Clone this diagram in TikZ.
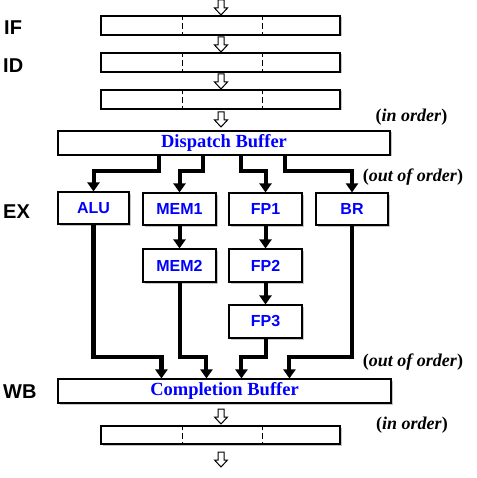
\documentclass[tikz,border=0pt]{standalone}
\usepackage{fontspec}
\setmainfont{Liberation Serif}
\setsansfont{Liberation Sans}
\usetikzlibrary{arrows.meta,shadows,calc}
\begin{document}
\begin{tikzpicture}[x=1pt,y=-1pt,
  shad/.style={drop shadow={shadow xshift=1.5pt,shadow yshift=-1.5pt,fill=black!45,opacity=0.5}},
  bar/.style={draw,line width=1.1pt,fill=white,shad,minimum width=239pt,minimum height=19pt,inner sep=0pt},
  buf/.style={draw,line width=1.1pt,fill=white,shad,minimum height=24pt,inner sep=0pt,
    font=\fontsize{18.5}{20}\selectfont\bfseries,text=blue},
  unit/.style={draw,line width=1.1pt,fill=white,shad,minimum width=73pt,minimum height=32pt,inner sep=0pt,
    font=\fontsize{16}{18}\sffamily\bfseries,text=blue},
  stage/.style={anchor=west,inner sep=0pt,font=\fontsize{20}{22}\sffamily\bfseries},
  note/.style={inner sep=0pt,font=\fontsize{18}{20}\selectfont\bfseries},
  conn/.style={line width=4pt,-{Triangle[width=12pt,length=9pt]}},
  divline/.style={dash pattern=on 6pt off 3pt,dash phase=1pt,line width=0.9pt},
  harrow/.pic={\draw[line width=1pt,fill=white] (-3,0) -- (3,0) -- (3,8) -- (6.5,8) -- (0,15) -- (-6.5,8) -- (-3,8) -- cycle;}
]
\useasboundingbox (0,0) rectangle (476,478);

% pipeline bars
\node[bar] (b1) at (220.5,25.5) {};
\node[bar] (b2) at (220.5,62.5) {};
\node[bar] (b3) at (220.5,99.5) {};
\node[bar,minimum height=18pt] (b4) at (220.5,435) {};
\foreach \b in {b1,b2,b3,b4}{
  \draw[divline] ([xshift=82pt]\b.north west) -- ([xshift=82pt]\b.south west);
  \draw[divline] ([xshift=162pt]\b.north west) -- ([xshift=162pt]\b.south west);
}

% hollow arrows
\pic at (221,0) {harrow};
\pic at (221,37) {harrow};
\pic at (221,74) {harrow};
\pic at (221,112) {harrow};
\pic at (221,409) {harrow};
\pic at (221,452) {harrow};

% buffers
\node[buf,minimum width=332pt] (disp) at (224,143) {Dispatch Buffer};
\node[buf,minimum width=333pt] (comp) at (224.5,391) {Completion Buffer};

% units
\node[unit,minimum width=71pt] (alu) at (93.5,208) {ALU};
\node[unit] (mem1) at (179.5,209) {MEM1};
\node[unit] (fp1) at (265.5,209) {FP1};
\node[unit,minimum width=72pt] (br) at (352,209) {BR};
\node[unit,minimum height=33pt] (mem2) at (179.5,265.5) {MEM2};
\node[unit,minimum height=33pt] (fp2) at (265.5,265.5) {FP2};
\node[unit,minimum height=33pt] (fp3) at (265.5,321.5) {FP3};

% stage labels
\node[stage] (lif) at (4,28) {IF};
\node[stage] (lid) at (3,66) {ID};
\node[stage] (lex) at (3,212) {EX};
\node[stage] (lwb) at (3,392) {WB};

% notes
\node[note] (n1) at (411.5,117) {(\textit{in order})};
\node[note] (n2) at (413,177) {(\textit{out of order})};
\node[note] (n3) at (413,362) {(\textit{out of order})};
\node[note] (n4) at (412,425) {(\textit{in order})};

% dispatch connectors
\coordinate (d1) at ([xshift=102pt]disp.south west);
\coordinate (d2) at ([xshift=146pt]disp.south west);
\coordinate (d3) at ([xshift=184pt]disp.south west);
\coordinate (d4) at ([xshift=228pt]disp.south west);
\draw[conn] (d1) -- ++(0,15) -| (alu.north);
\draw[conn] (d2) -- ++(0,15) -| (mem1.north);
\draw[conn] (d3) -- ++(0,15) -| (fp1.north);
\draw[conn] (d4) -- ++(0,15) -| (br.north);

% internal pipes
\draw[conn] (mem1.south) -- (mem2.north);
\draw[conn] (fp1.south) -- (fp2.north);
\draw[conn] (fp2.south) -- (fp3.north);

% completion connectors
\coordinate (wbl) at (0,357);
\coordinate (c1) at ([xshift=104pt]comp.north west);
\coordinate (c2) at ([xshift=149pt]comp.north west);
\coordinate (c3) at ([xshift=184pt]comp.north west);
\coordinate (c4) at ([xshift=232pt]comp.north west);
\draw[conn,line width=4.5pt] (alu.south) -- (alu.south |- wbl) -| (c1);
\draw[conn] (mem2.south) -- (mem2.south |- wbl) -| (c2);
\draw[conn] (fp3.south) -- (fp3.south |- wbl) -| (c3);
\draw[conn] (br.south) -- (br.south |- wbl) -| (c4);
\end{tikzpicture}
\end{document}
